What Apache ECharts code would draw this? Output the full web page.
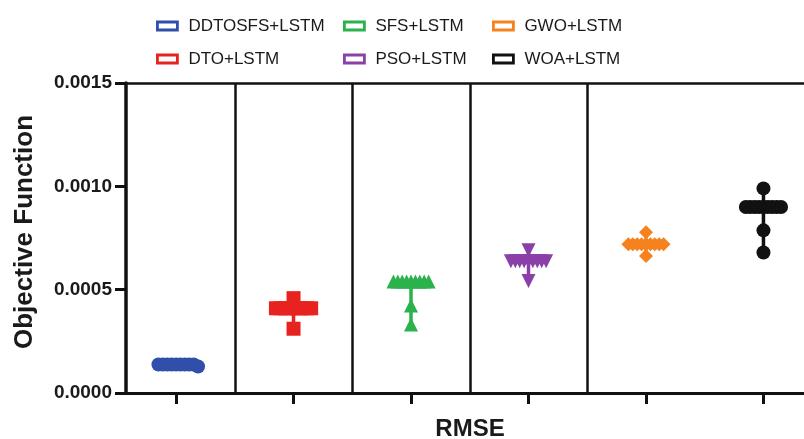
<!DOCTYPE html>
<html>
<head>
<meta charset="utf-8">
<script src="https://cdn.jsdelivr.net/npm/echarts@6/dist/echarts.min.js"></script>
<style>
  html, body { margin: 0; padding: 0; background: #fff; }
  #chart { width: 804px; height: 439px; }
</style>
</head>
<body>
<div id="chart"></div>
<script>
// Objective function (RMSE) per optimiser, one dot per run
const categories = ['DDTOSFS+LSTM', 'DTO+LSTM', 'SFS+LSTM', 'PSO+LSTM', 'GWO+LSTM', 'WOA+LSTM'];
const ddtosfsLstm = [0.000138, 0.000138, 0.000138, 0.000138, 0.000138, 0.000138, 0.000138, 0.000138, 0.000138, 0.000128];
const dtoLstm = [0.000459, 0.000410, 0.000410, 0.000410, 0.000410, 0.000410, 0.000410, 0.000410, 0.000410, 0.000410, 0.000311];
const sfsLstm = [0.000540, 0.000540, 0.000540, 0.000540, 0.000540, 0.000540, 0.000540, 0.000540, 0.000540, 0.000423, 0.000331];
const psoLstm = [0.000691, 0.000638, 0.000638, 0.000638, 0.000638, 0.000638, 0.000638, 0.000638, 0.000638, 0.000638, 0.000542];
const gwoLstm = [0.000778, 0.000720, 0.000720, 0.000720, 0.000720, 0.000720, 0.000720, 0.000720, 0.000720, 0.000720, 0.000663];
const woaLstm = [0.000990, 0.000900, 0.000900, 0.000900, 0.000900, 0.000900, 0.000900, 0.000900, 0.000900, 0.000900, 0.000787, 0.000680];
const yTicks = [0, 0.0005, 0.0010, 0.0015];

const groups = [ddtosfsLstm, dtoLstm, sfsLstm, psoLstm, gwoLstm, woaLstm];
const colors = ['#2f4fab', '#e8231f', '#2bb24c', '#8b3fa8', '#f5821f', '#111111'];
const symbols = ['circle', 'rect', 'triangle', 'triangle', 'diamond', 'circle'];
const rotations = [0, 0, 0, 180, 0, 0];

// plot geometry, used to convert the dot spacing from pixels to axis units
const gridLeft = 126, gridRight = 0, gridTop = 83, gridBottom = 46;
const xMin = -0.426, xMax = 5.345;
const yMax = 0.0015;
const plotW = 804 - gridLeft - gridRight;
const plotH = 439 - gridTop - gridBottom;
const pxPerX = plotW / (xMax - xMin);
const pxPerY = plotH / yMax;
const symSize = 14;

// simple beeswarm: spread dots that would overlap sideways around the category centre
function swarm(values, center) {
  const step = 4.4;      // px between neighbouring dots in a row
  const vGap = 10;       // px vertical distance below which dots collide
  const placed = [];
  return values.map(v => {
    const y = v * pxPerY;
    let k = 0, off = 0;
    while (true) {
      off = (k % 2 === 1 ? 1 : -1) * Math.ceil(k / 2) * step;
      const hit = placed.some(p => Math.abs(p.y - y) < vGap && Math.abs(p.x - off) < step * 0.9);
      if (!hit) break;
      k++;
    }
    placed.push({ x: off, y: y });
    return [center + off / pxPerX, v];
  });
}

const series = [];
groups.forEach((vals, i) => {
  const lo = Math.min(...vals), hi = Math.max(...vals);
  // spread of the runs
  series.push({
    type: 'line',
    name: categories[i] + ' range',
    data: [[i, lo], [i, hi]],
    symbol: 'none',
    silent: true,
    z: 2,
    lineStyle: { color: colors[i], width: 3.5 },
    legendHoverLink: false
  });
  series.push({
    type: 'scatter',
    name: categories[i],
    data: swarm(vals, i),
    symbol: symbols[i],
    symbolRotate: rotations[i],
    symbolSize: symSize,
    z: 3,
    itemStyle: { color: colors[i], opacity: 1 }
  });
});

// group dividers
series.push({
  type: 'scatter',
  name: 'dividers',
  data: [],
  silent: true,
  markLine: {
    silent: true,
    symbol: 'none',
    label: { show: false },
    lineStyle: { color: '#111', width: 2.5, type: 'solid' },
    data: [0.5, 1.5, 2.5, 3.5].map(x => ({ xAxis: x }))
  }
});

function legendBlock(names, left) {
  return {
    orient: 'vertical',
    left: left,
    top: 12,
    itemWidth: 20,
    itemHeight: 8,
    itemGap: 15,
    selectedMode: false,
    textStyle: { fontSize: 17, color: '#1a1a1a', fontFamily: 'Liberation Sans', lineHeight: 18, padding: [0, 0, 0, 6] },
    data: names.map(n => ({
      name: n,
      icon: 'rect',
      itemStyle: { color: '#fff', borderColor: colors[categories.indexOf(n)], borderWidth: 2.8 }
    }))
  };
}

const option = {
  animation: false,
  backgroundColor: '#fff',
  textStyle: { fontFamily: 'Liberation Sans' },
  legend: [
    legendBlock([categories[0], categories[1]], 151),
    legendBlock([categories[2], categories[3]], 338),
    legendBlock([categories[4], categories[5]], 487)
  ],
  grid: {
    left: gridLeft, right: gridRight, top: gridTop, bottom: gridBottom,
    containLabel: false, outerBoundsMode: 'none'
  },
  xAxis: [{
    type: 'value',
    min: xMin,
    max: xMax,
    name: 'RMSE',
    nameLocation: 'middle',
    nameGap: 24,
    nameTextStyle: { fontSize: 24, fontWeight: 'bold', color: '#1a1a1a', padding: [0, 0, 0, 10] },
    axisLine: { show: true, onZero: false, lineStyle: { color: '#111', width: 3 } },
    axisTick: { show: true, length: 11, lineStyle: { color: '#111', width: 3 }, customValues: categories.map((c, i) => i) },
    axisLabel: { show: false },
    splitLine: { show: false }
  }, {
    // top frame line
    type: 'value',
    position: 'top',
    min: xMin,
    max: xMax,
    axisLine: { show: true, onZero: false, lineStyle: { color: '#111', width: 2.5 } },
    axisTick: { show: false },
    axisLabel: { show: false },
    splitLine: { show: false }
  }],
  yAxis: {
    type: 'value',
    min: 0,
    max: yMax,
    interval: 0.0005,
    name: 'Objective Function',
    nameLocation: 'middle',
    nameGap: 88,
    nameTextStyle: { fontSize: 26, fontWeight: 'bold', color: '#1a1a1a', padding: [0, 0, 0, 12] },
    axisLine: { show: true, onZero: false, lineStyle: { color: '#111', width: 3.5 } },
    axisTick: { show: true, length: 11, lineStyle: { color: '#111', width: 3 } },
    axisLabel: {
      margin: 14,
      fontSize: 19,
      fontWeight: 'bold',
      color: '#1a1a1a',
      customValues: yTicks,
      formatter: v => v.toFixed(4)
    },
    splitLine: { show: false }
  },
  series: series
};

const chart = echarts.init(document.getElementById('chart'), null, { renderer: 'canvas' });
chart.setOption(option);
</script>
</body>
</html>
